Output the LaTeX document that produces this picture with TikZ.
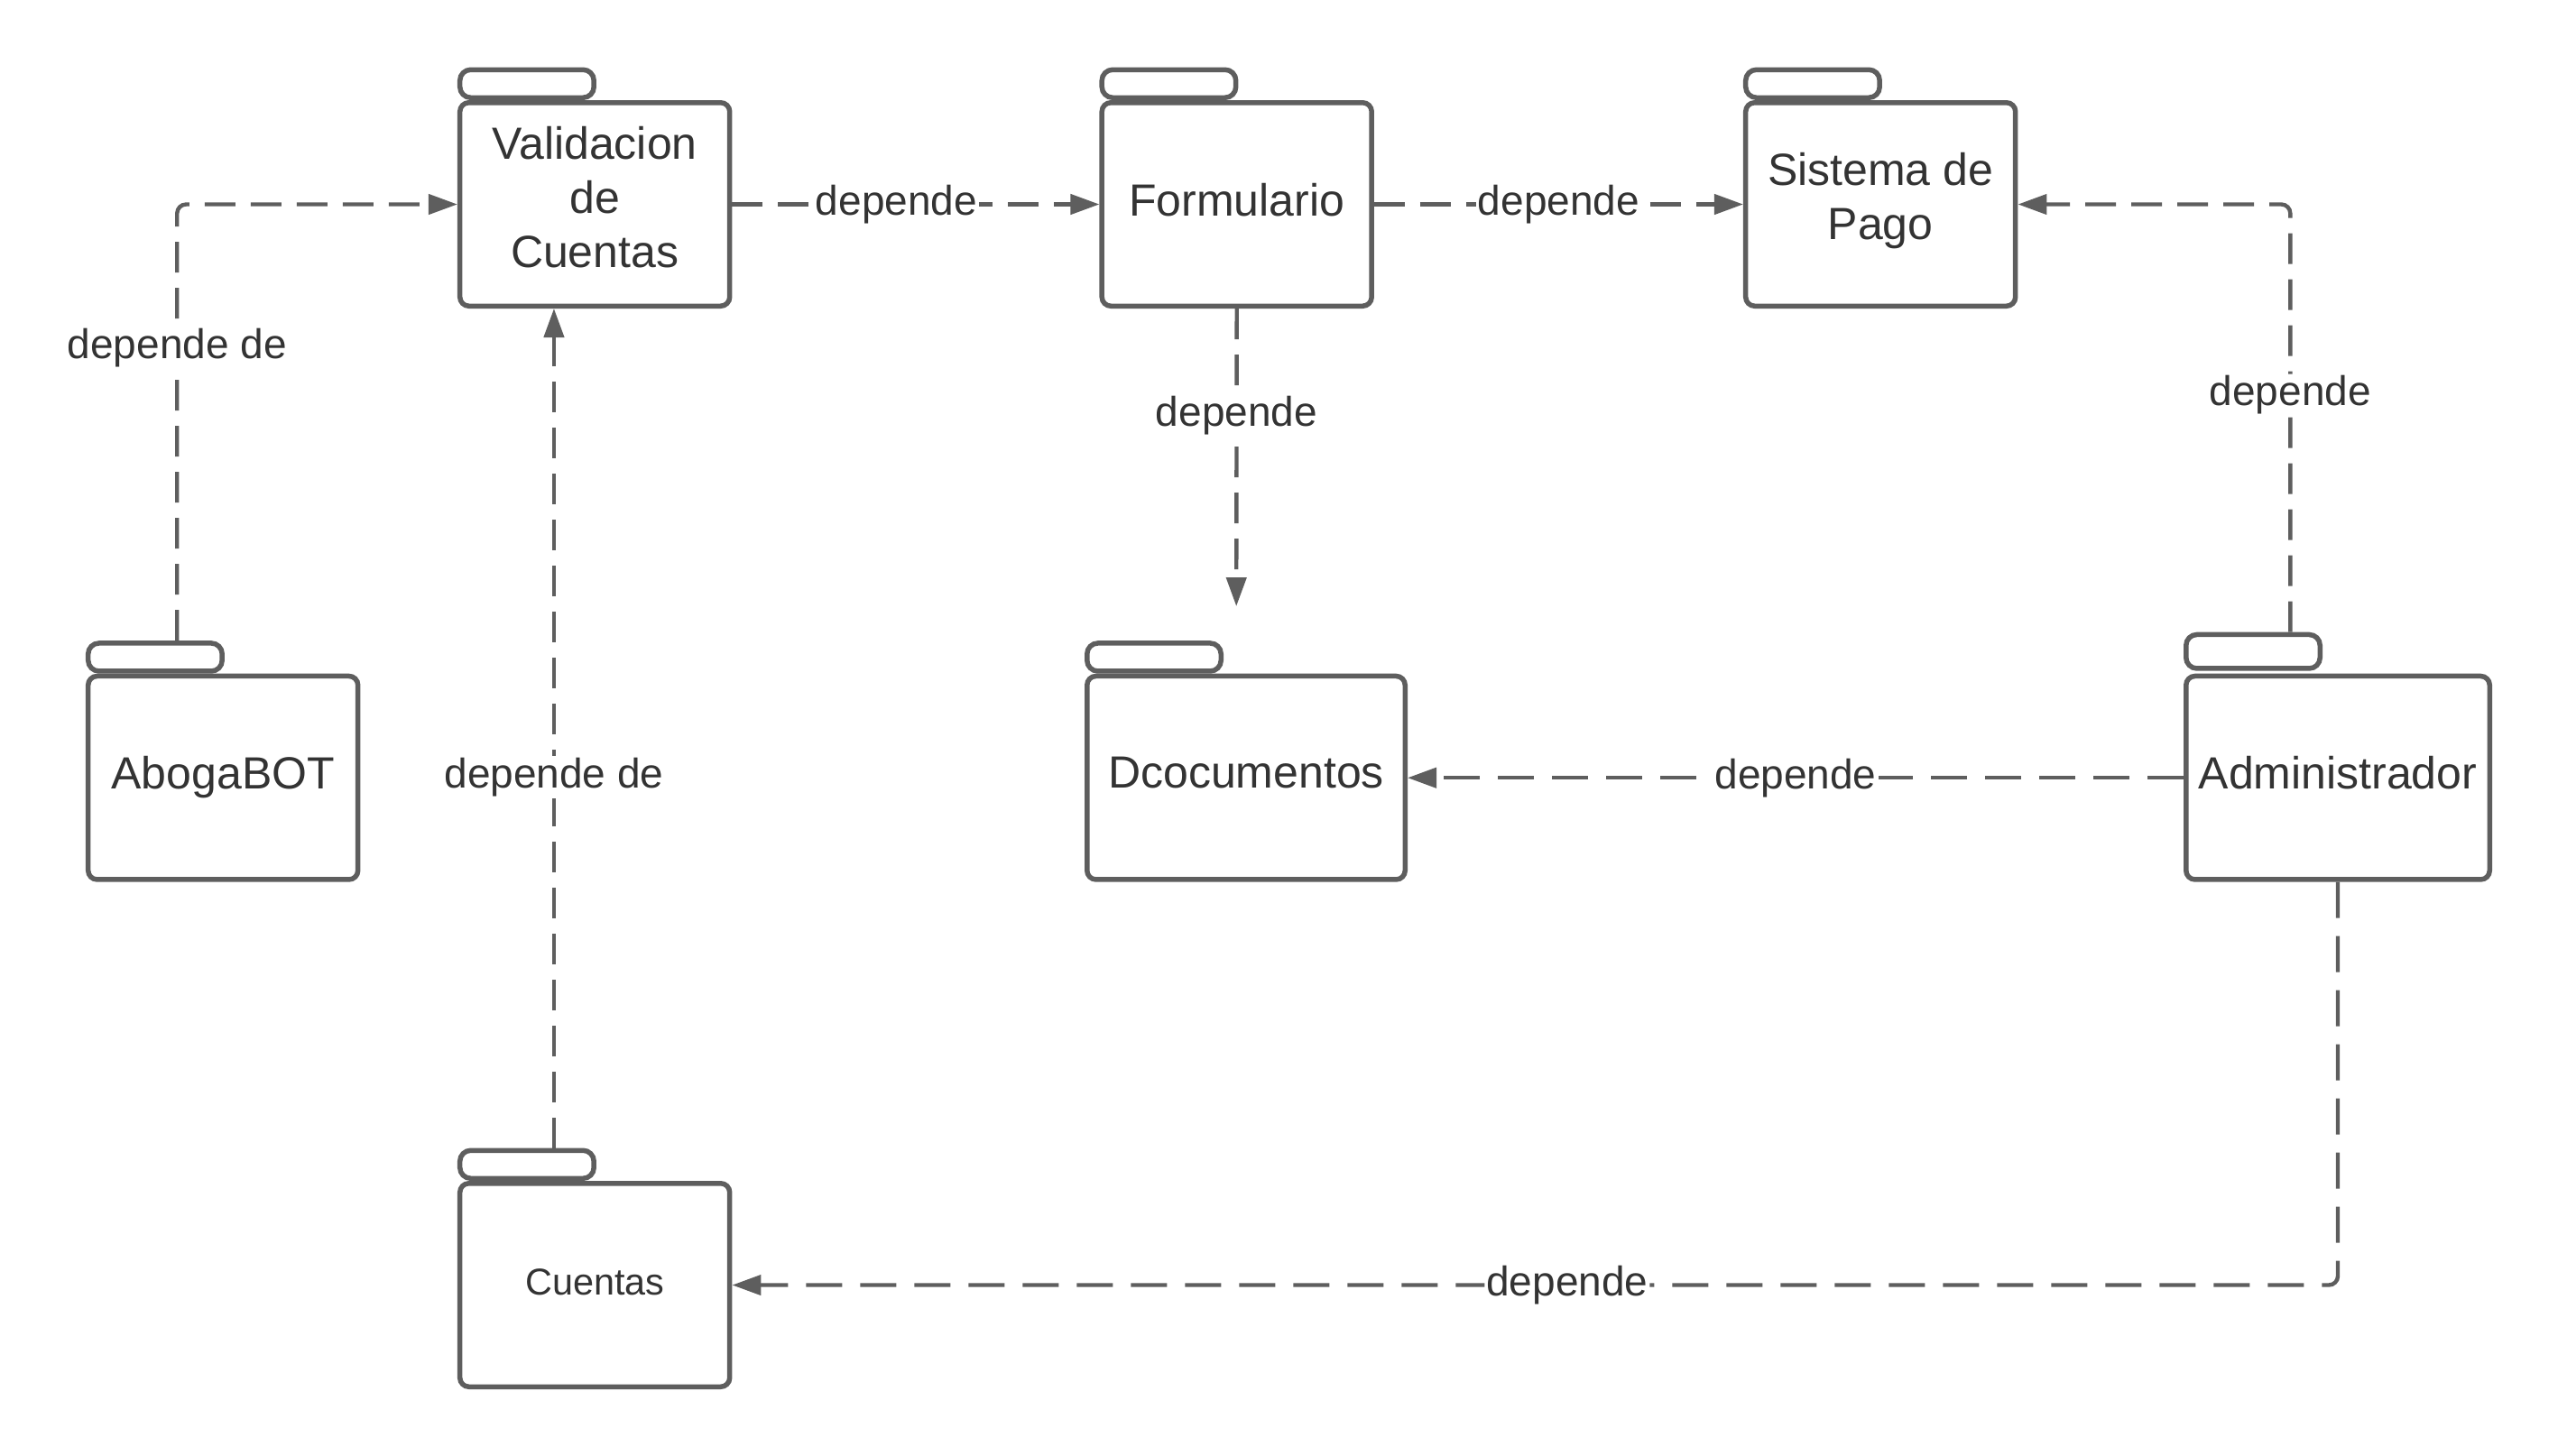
\documentclass[tikz,border=0pt]{standalone}
\usepackage{fontspec}
\setmainfont{Liberation Sans}
\usetikzlibrary{arrows.meta}
\usetikzlibrary{positioning}
\definecolor{lineg}{HTML}{5E5E5E}
\definecolor{textg}{HTML}{333333}
\tikzset{
    pkg/.style={
           rectangle,
           rounded corners=5pt,
           draw=lineg, line width=2.75pt,
           minimum width=149.5pt,
           minimum height=112.75pt,
           text=textg,
           text depth=5.5pt,
           align=center,
           font=\fontsize{25}{30}\selectfont,
           },
    pkgtab/.style={
           rectangle,
           rounded corners=6pt,
           draw=lineg, line width=2.75pt,
           minimum width=74.25pt,
           minimum height=15.5pt,
           inner sep=0pt,
           },
    dep/.style={->, draw=lineg, line width=2.2pt, dash pattern=on 17pt off 8.5pt},
    deplong/.style={dep, dash pattern=on 20pt off 10pt},
    lbl/.style={fill=white, text=textg, inner sep=1pt, font=\fontsize{23}{27}\selectfont},
}

\begin{document}
\begin{tikzpicture}[>={Triangle[length=16pt,width=11pt]},x=1pt,y=1pt]
	\useasboundingbox (0,0) rectangle (1417.5,-806.5);

	% packages
	\node[pkg,text depth=8pt]   (val)   at (329.6,-113.25) {Validacion\\de\\Cuentas};
	\node[pkg]                  (form)  [right=203.5pt of val] {Formulario};
	\node[pkg,text depth=9pt]   (pago)  [right=204.5pt of form] {Sistema de\\Pago};
	\node[pkg]                  (abo)   at (123.6,-431.1) {AbogaBOT};
	\node[pkg,minimum width=176.25pt] (docs)  at (690.5,-431.1) {Dcocumentos};
	\node[pkg,minimum width=168.25pt] (admin) at (1295.5,-431.1) {Administrador};
	\node[pkg,text depth=3pt,font=\fontsize{20.7}{25}\selectfont] (cta) [below=483.5pt of val] {Cuentas};

	% tabs
	\node[pkgtab] (val-tab)   [above right=0pt and 0pt of val.north west] {};
	\node[pkgtab] (form-tab)  [above right=0pt and 0pt of form.north west] {};
	\node[pkgtab] (pago-tab)  [above right=0pt and 0pt of pago.north west] {};
	\node[pkgtab] (abo-tab)   [above right=0pt and 0pt of abo.north west] {};
	\node[pkgtab] (docs-tab)  [above right=0pt and 0pt of docs.north west] {};
	\node[pkgtab,minimum height=18.75pt] (admin-tab) [above right=1.5pt and 0pt of admin.north west] {};
	\node[pkgtab] (cta-tab)   [above right=0pt and 0pt of cta.north west] {};

	\coordinate (docs-in) at (685.1,-336);

	% dependencies
	\path[dep,rounded corners=5pt] ([xshift=12.15pt]abo-tab.north) |- node[lbl,pos=0.336] {depende de} (val.west);
	\path[dep] (val.east) -- node[lbl,pos=0.447] {depende} (form.west);
	\path[dep] (form.east) -- node[lbl] {depende} (pago.west);
	\path[dep] (form.south) -- node[lbl,pos=0.36] {depende} (docs-in);
	\path[dep] ([xshift=15pt]cta-tab.north) coordinate (cta-up) -- node[lbl,pos=0.442] {depende de} (cta-up |- val.south);
	\path[dep,rounded corners=5pt] ([xshift=20.65pt]admin-tab.north) |- node[lbl,pos=0.277] {depende} (pago.east);
	\path[deplong] (admin.west) -- node[lbl] {depende} (docs.east);
	\path[deplong,rounded corners=5pt] (admin.south) |- node[lbl,pos=0.74] {depende} (cta.east);

\end{tikzpicture}
\end{document}
